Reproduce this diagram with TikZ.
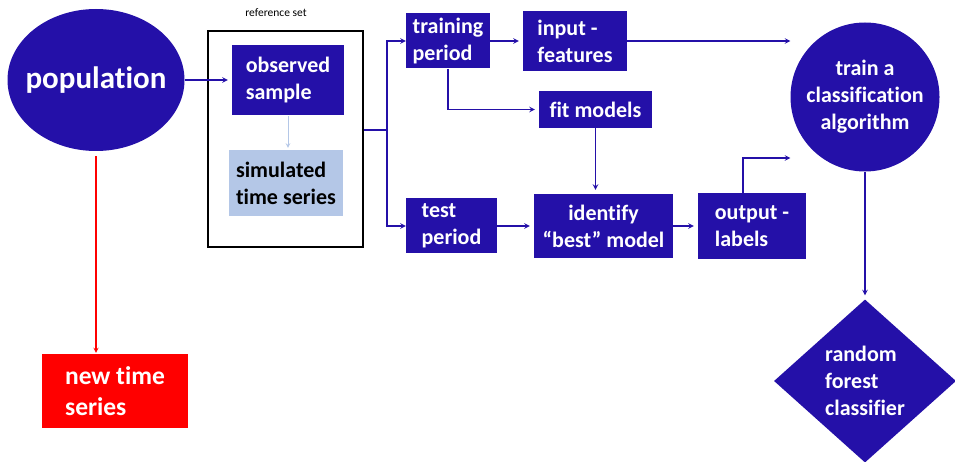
\documentclass[tikz,border=0pt]{standalone}
\usepackage{fontspec}
\setmainfont{Carlito}[Ligatures={NoCommon}]
\usepackage{xcolor}
\definecolor{azulOscuro}{RGB}{36, 16, 168}
\definecolor{azulClaro}{RGB}{180, 199, 231}
\definecolor{rojo}{RGB}{255, 0, 0}
\usepackage{tikz}
\usetikzlibrary{arrows,shapes,calc,positioning}
\tikzstyle{edge}  =[shorten >=4pt, >=stealth, line width=1.4pt,
                    draw=azulOscuro]
\tikzstyle{box}   =[rectangle, fill=azulOscuro, text=white, align=left,
                    inner sep=0pt, font=\bfseries\fontsize{22}{27}\selectfont]

\begin{document}
\begin{tikzpicture}[x=1pt,y=-1pt]
    \useasboundingbox (0,0) rectangle (955,462);

        % left part
        \draw (96,80) node (pop) [box, ellipse, minimum width=177pt, minimum height=142pt,
            inner xsep=-30pt, font=\bfseries\fontsize{31}{37}\selectfont] {population};
        \draw (115,391) node (nts) [box, fill=rojo, minimum width=146pt, minimum height=74pt,
            font=\bfseries\fontsize{25.5}{31}\selectfont] {new time\\series};

        \draw (285.5,139) node (refset) [rectangle, draw=black, line width=2pt,
            minimum width=155pt, minimum height=216pt] {};
        \draw (276,13) node (reflbl) [font=\fontsize{11.5}{14}\selectfont] {reference set};
        \draw (288,80) node (obs) [box, minimum width=112pt, minimum height=70pt] {observed\\sample};
        \draw (286,183) node (sim) [box, fill=azulClaro, text=black, minimum width=114pt,
            minimum height=66pt] {simulated\\time series};

        % middle part
        \draw (448,41) node (train) [box, minimum width=84pt, minimum height=55pt] {training\\period};
        \draw (451.5,226) node (test) [box, minimum width=91pt, minimum height=55pt] {test\\period};
        \draw (575,41) node (feat) [box, minimum width=104pt, minimum height=60pt] {input -\\features};
        \draw (595.5,109.5) node (fit) [box, minimum width=113pt, minimum height=37pt] {fit models};
        \draw (603.5,226) node (best) [box, align=center, minimum width=139pt, minimum height=64pt] {identify\\``best'' model};
        \draw (752,226) node (out) [box, minimum width=108pt, minimum height=66pt] {output -\\labels};

        % right part
        \draw (865,97) node (clf) [box, circle, align=center, minimum size=149pt] {train a\\classification\\algorithm};
        \draw (865,381) node (rf) [box, diamond, minimum width=182pt, minimum height=163pt] {random\\forest\\classifier};

        \coordinate (split) at (387,130);
        \coordinate (lbl) at (clf.west |- 0,158);

        \foreach \i/\j in{pop/obs,train/feat,test/best,best/out,clf/rf}
        \draw [edge,->] (\i) to (\j);

        \draw [edge,->,shorten >=0pt] (refset.east |- split) -- (split) |- (train);
        \draw [edge,->,shorten >=0pt] (split) |- (test);
        \draw [edge,->] (train.south) |- (fit);
        \draw [edge,->] (fit.south) -- (fit.south |- best.north);
        \draw [edge,->,shorten >=0pt] (feat.east) -- (clf.west |- feat.east);
        \draw [edge,->,shorten >=0pt] ([xshift=-9pt]out.north) |- (lbl);
        \draw [edge,->,draw=azulClaro,line width=1pt,shorten <=1pt,shorten >=2pt] (obs.south) -- (obs.south |- sim.north);
        \draw [edge,->,draw=rojo,line width=1.2pt,shorten <=5pt,shorten >=1pt] (pop.south) -- (pop.south |- nts.north);

\end{tikzpicture}
\end{document}
